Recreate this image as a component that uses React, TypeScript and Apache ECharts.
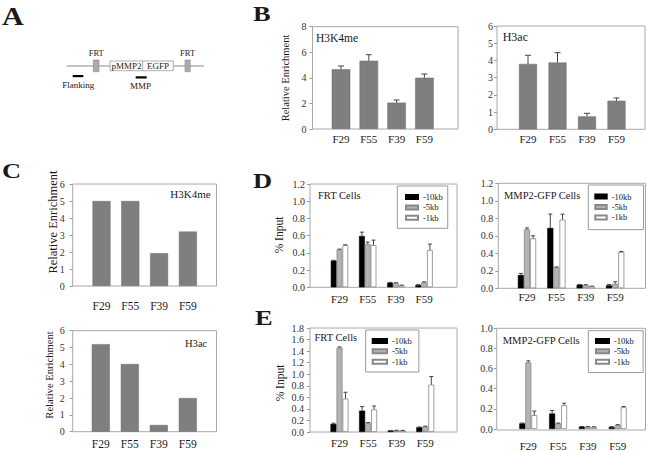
import React, { useEffect, useRef } from 'react';
import * as echarts from 'echarts';

// ---------- data ----------
const categories = ['F29', 'F55', 'F39', 'F59'];
const kbNames = ['-10kb', '-5kb', '-1kb'];

// Panel B
const bH3K4me = [4.67, 5.34, 2.06, 4.01];
const bH3K4meErr = [0.26, 0.47, 0.21, 0.29];
const bH3ac = [3.8, 3.88, 0.75, 1.66];
const bH3acErr = [0.5, 0.57, 0.18, 0.16];

// Panel C
const cH3K4me = [5.0, 5.0, 1.93, 3.2];
const cH3ac = [5.2, 4.02, 0.4, 2.0];

// Panel D - FRT cells
const dFrt10 = [0.31, 0.596, 0.054, 0.027];
const dFrt5 = [0.44, 0.503, 0.05, 0.058];
const dFrt1 = [0.49, 0.49, 0.023, 0.434];
const dFrt10Err = [0.004, 0.045, 0.003, 0.003];
const dFrt5Err = [0.004, 0.022, 0.003, 0.005];
const dFrt1Err = [0.004, 0.058, 0.002, 0.068];

// Panel D - MMP2-GFP cells
const dMmp10 = [0.152, 0.69, 0.042, 0.034];
const dMmp5 = [0.674, 0.24, 0.038, 0.053];
const dMmp1 = [0.57, 0.785, 0.023, 0.415];
const dMmp10Err = [0.018, 0.158, 0.002, 0.01];
const dMmp5Err = [0.016, 0.004, 0.003, 0.022];
const dMmp1Err = [0.03, 0.062, 0.002, 0.006];

// Panel E - FRT cells
const eFrt10 = [0.14, 0.37, 0.025, 0.082];
const eFrt5 = [1.46, 0.158, 0.028, 0.097];
const eFrt1 = [0.578, 0.39, 0.025, 0.82];
const eFrt10Err = [0.012, 0.07, 0.002, 0.005];
const eFrt5Err = [0.012, 0.005, 0.002, 0.004];
const eFrt1Err = [0.11, 0.06, 0.003, 0.14];

// Panel E - MMP2-GFP cells
const eMmp10 = [0.056, 0.154, 0.023, 0.02];
const eMmp5 = [0.662, 0.056, 0.023, 0.039];
const eMmp1 = [0.138, 0.236, 0.02, 0.216];
const eMmp10Err = [0.003, 0.03, 0.002, 0.003];
const eMmp5Err = [0.015, 0.003, 0.002, 0.004];
const eMmp1Err = [0.04, 0.02, 0.002, 0.007];

// ---------- styles ----------
const FONT = 'Liberation Serif, Times New Roman, serif';
const GRAY = { color: '#7f7f7f', borderColor: '#6b6b6b', borderWidth: 0.5 };
const KB = [
  { color: '#000000', borderColor: '#000000', borderWidth: 0.5 },
  { color: '#b3b3b3', borderColor: '#888888', borderWidth: 0.8 },
  { color: '#ffffff', borderColor: '#888888', borderWidth: 0.8 },
];
const FRAME = '#a8a8a8';

const kbSeries = (v: number[][], e: number[][]) =>
  kbNames.map((name, k) => ({ name, values: v[k], err: e[k], style: KB[k] }));

const panels: any[] = [
  {
    frame: [312.5, 26.7, 458, 129], c0: 341, s: 27.8, yMax: 8, yInterval: 2, decimals: 0,
    barW: 18.5, cap: 6, catMargin: 4, catFont: 11, tickMargin: 6,
    series: [{ name: 'H3K4me', values: bH3K4me, err: bH3K4meErr, style: GRAY }],
  },
  {
    frame: [497, 26, 645, 129.3], c0: 528, s: 29.5, yMax: 6, yInterval: 1, decimals: 0,
    barW: 18, cap: 6, catMargin: 4.5, catFont: 11, tickMargin: 4,
    series: [{ name: 'H3ac', values: bH3ac, err: bH3acErr, style: GRAY }],
  },
  {
    frame: [72.7, 184, 216.5, 286], c0: 101.5, s: 28.8, yMax: 6, yInterval: 1, decimals: 0,
    barW: 18, cap: 6, catMargin: 14, catFont: 11.5, tickMargin: 8,
    series: [{ name: 'H3K4me ', values: cH3K4me, style: GRAY }],
  },
  {
    frame: [72.7, 330.7, 216.5, 431.7], c0: 100.8, s: 29, yMax: 6, yInterval: 1, decimals: 0,
    barW: 18, cap: 6, catMargin: 6.5, catFont: 11.5, tickMargin: 8,
    series: [{ name: 'H3ac ', values: cH3ac, style: GRAY }],
  },
  {
    frame: [310, 184, 457, 287.3], c0: 339.5, s: 28.2, yMax: 1.2, yInterval: 0.2, decimals: 1,
    barW: 5.8, cap: 4, catMargin: 6, catFont: 11, tickMargin: 5,
    series: kbSeries([dFrt10, dFrt5, dFrt1], [dFrt10Err, dFrt5Err, dFrt1Err]),
    legend: { left: 397.3, top: 186, padding: [5.85, 4.9, 5.25, 7.7], itemWidth: 12 },
  },
  {
    frame: [498.3, 183.3, 645.5, 288.3], c0: 527, s: 29.4, yMax: 1.2, yInterval: 0.2, decimals: 1,
    barW: 6.1, cap: 4, catMargin: 3.5, catFont: 11, tickMargin: 5,
    series: kbSeries([dMmp10, dMmp5, dMmp1], [dMmp10Err, dMmp5Err, dMmp1Err]),
    legend: { left: 588.3, top: 185, padding: [6.4, 12, 7, 6], itemWidth: 11.4 },
  },
  {
    frame: [310, 328, 457, 432], c0: 339.5, s: 28.6, yMax: 1.8, yInterval: 0.2, decimals: 1,
    barW: 6, cap: 4, catMargin: 5.8, catFont: 11, tickMargin: 6,
    series: kbSeries([eFrt10, eFrt5, eFrt1], [eFrt10Err, eFrt5Err, eFrt1Err]),
    legend: { left: 365.7, top: 330, padding: [5.7, 7, 5.1, 6], itemWidth: 14.3 },
  },
  {
    frame: [496.7, 328.3, 645.5, 430], c0: 528.3, s: 29.8, yMax: 1.0, yInterval: 0.2, decimals: 1,
    barW: 6, cap: 4, catMargin: 11, catFont: 11, tickMargin: 4,
    series: kbSeries([eMmp10, eMmp5, eMmp1], [eMmp10Err, eMmp5Err, eMmp1Err]),
    legend: { left: 588.3, top: 330.7, padding: [5, 9.3, 5.7, 6.7], itemWidth: 13 },
  },
];

const txt = (text: string, x: number, y: number, size: number, align = 'left', extra: any = {}) => ({
  type: 'text',
  x,
  y,
  ...extra,
  style: {
    text,
    fontSize: size,
    fontFamily: FONT,
    fontWeight: extra.bold ? 'bold' : 'normal',
    fill: '#1a1a1a',
    align,
    textAlign: align,
    verticalAlign: 'middle',
    textVerticalAlign: 'middle',
  },
});

const makeErr = (dx: number, cap: number) => (params: any, api: any) => {
  const a = api.coord([api.value(0), api.value(1)]);
  const b = api.coord([api.value(0), api.value(2)]);
  const x = a[0] + dx;
  return {
    type: 'group',
    children: [
      { type: 'line', shape: { x1: x, y1: a[1], x2: x, y2: b[1] }, style: { stroke: '#444', lineWidth: 1 } },
      { type: 'line', shape: { x1: x - cap / 2, y1: b[1], x2: x + cap / 2, y2: b[1] }, style: { stroke: '#444', lineWidth: 1 } },
    ],
  };
};

function buildOption() {
  const grid: any[] = [];
  const xAxis: any[] = [];
  const yAxis: any[] = [];
  const series: any[] = [];
  const legend: any[] = [];
  const elements: any[] = [];

  panels.forEach((p, i) => {
    const [x0, y0, x1, y1] = p.frame;
    const left = p.c0 - p.s / 2;
    grid.push({ left, top: y0, width: p.s * 4, height: y1 - y0, containLabel: false });
    xAxis.push({
      type: 'category', gridIndex: i, data: categories,
      axisLine: { show: false }, axisTick: { show: false },
      axisLabel: { margin: p.catMargin, fontSize: p.catFont, fontFamily: FONT, color: '#1a1a1a' },
    });
    yAxis.push({
      type: 'value', gridIndex: i, min: 0, max: p.yMax, interval: p.yInterval, offset: left - x0,
      axisLine: { show: false },
      axisTick: { show: true, length: 3, lineStyle: { color: '#999' } },
      splitLine: { show: false },
      axisLabel: {
        margin: p.tickMargin, fontSize: 10, fontFamily: FONT, color: '#333',
        formatter: (v: number) => v.toFixed(p.decimals),
      },
    });
    const n = p.series.length;
    p.series.forEach((s: any, k: number) => {
      series.push({
        type: 'bar', name: s.name, xAxisIndex: i, yAxisIndex: i, data: s.values,
        barWidth: p.barW, barGap: '0%', itemStyle: s.style, silent: true, z: 2,
      });
      if (s.err) {
        series.push({
          type: 'custom', xAxisIndex: i, yAxisIndex: i, silent: true, z: 4, clip: false,
          data: s.values.map((v: number, j: number) => [j, v, v + s.err[j]]),
          renderItem: makeErr((k - (n - 1) / 2) * p.barW, p.cap),
        });
      }
    });
    if (p.legend) {
      legend.push({
        orient: 'vertical', left: p.legend.left, top: p.legend.top, padding: p.legend.padding,
        data: kbNames, icon: 'rect', itemWidth: p.legend.itemWidth, itemHeight: 4, itemGap: 0,
        borderColor: '#999', borderWidth: 1, selectedMode: false,
        textStyle: { fontSize: 8.5, fontFamily: FONT, color: '#1a1a1a', lineHeight: 10.4 },
      });
    }
    elements.push({
      type: 'rect', z: 1,
      shape: { x: x0, y: y0, width: x1 - x0, height: y1 - y0 },
      style: { fill: 'none', stroke: FRAME, lineWidth: 1 },
    });
  });

  // in-plot titles
  elements.push(txt('H3K4me', 316, 38.3, 11.5));
  elements.push(txt('H3ac', 502.7, 37, 12));
  elements.push(txt('H3K4me', 210.7, 194, 11, 'right'));
  elements.push(txt('H3ac', 207.3, 343, 10.6, 'right'));
  elements.push(txt('FRT Cells', 318, 195, 10.5));
  elements.push(txt('MMP2-GFP Cells', 504, 195, 10.5));
  elements.push(txt('FRT Cells', 314.5, 337.5, 10.5));
  elements.push(txt('MMP2-GFP Cells', 502.7, 340.7, 10.6));

  // axis titles
  const rot = { rotation: Math.PI / 2 };
  elements.push(txt('Relative Enrichment', 285, 78, 10.5, 'center', rot));
  elements.push(txt('Relative Enrichment', 52.7, 222, 12.5, 'center', rot));
  elements.push(txt('Relative Enrichment', 49.3, 375, 10.6, 'center', rot));
  elements.push(txt('% Input', 279.3, 235, 11.5, 'center', rot));
  elements.push(txt('% Input', 280, 383, 11.5, 'center', rot));

  // panel letters
  const L = (t: string, x: number, y: number, size: number) =>
    txt(t, x, y, size, 'left', { bold: true, scaleX: 1.2 });
  elements.push(L('A', 2, 16.7, 25));
  elements.push(L('B', 253, 13.5, 22));
  elements.push(L('C', 2, 170, 22));
  elements.push(L('D', 253, 180, 22));
  elements.push(L('E', 255, 317.5, 22));

  // panel A diagram
  elements.push({ type: 'line', shape: { x1: 66.7, y1: 66, x2: 204, y2: 66 }, style: { stroke: '#8a8a8a', lineWidth: 1 } });
  elements.push({ type: 'rect', shape: { x: 93.3, y: 60, width: 5.7, height: 11.7 }, style: { fill: '#ababab', stroke: '#888', lineWidth: 0.6 } });
  elements.push({ type: 'rect', shape: { x: 185, y: 60, width: 5.2, height: 11.7 }, style: { fill: '#ababab', stroke: '#888', lineWidth: 0.6 } });
  elements.push({ type: 'rect', shape: { x: 110, y: 61, width: 63.3, height: 9.7 }, style: { fill: '#fff', stroke: '#999', lineWidth: 0.8 } });
  elements.push({ type: 'line', shape: { x1: 142.7, y1: 61, x2: 142.7, y2: 70.7 }, style: { stroke: '#999', lineWidth: 0.8 } });
  elements.push(txt('pMMP2', 126.5, 66.2, 9, 'center'));
  elements.push(txt('EGFP', 158, 66.2, 9, 'center'));
  elements.push(txt('FRT', 96.2, 52.7, 8.5, 'center'));
  elements.push(txt('FRT', 187.6, 52.7, 8.5, 'center'));
  elements.push({ type: 'rect', shape: { x: 72.7, y: 75, width: 10.6, height: 2.2 }, style: { fill: '#000' } });
  elements.push({ type: 'rect', shape: { x: 135.7, y: 76.3, width: 11, height: 2.2 }, style: { fill: '#000' } });
  elements.push(txt('Flanking', 78.3, 85.3, 9, 'center'));
  elements.push(txt('MMP', 140.5, 86.3, 9, 'center'));

  return {
    animation: false,
    backgroundColor: '#ffffff',
    grid, xAxis, yAxis, series, legend,
    graphic: { elements },
  };
}

export default function App() {
  const ref = useRef<HTMLDivElement>(null);
  useEffect(() => {
    if (!ref.current) return;
    const chart = echarts.init(ref.current, undefined, { renderer: 'svg' });
    chart.setOption(buildOption() as any);
    return () => chart.dispose();
  }, []);
  return (
    <div
      ref={ref}
      style={{ position: 'fixed', left: 0, top: 0, width: 648, height: 451, background: '#fff' }}
    />
  );
}
